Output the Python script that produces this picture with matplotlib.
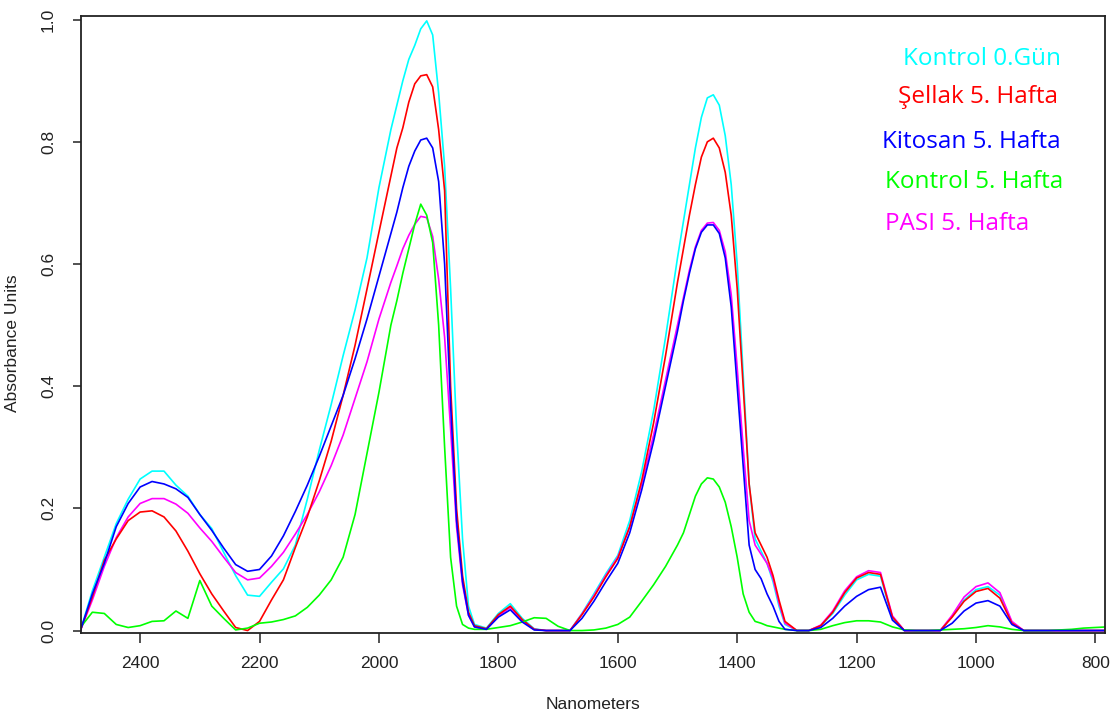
import numpy as np
import matplotlib
matplotlib.use("Agg")
import matplotlib.pyplot as plt

# wavelength grid (nm), denser around the two big water bands
nm = (list(range(2500, 1979, -20)) + list(range(1970, 1839, -10)) +
      list(range(1820, 1499, -20)) + list(range(1490, 1329, -10)) +
      list(range(1320, 779, -20)))

kontrol_0 = [
    0.0, 0.065, 0.12, 0.175, 0.215, 0.248, 0.261, 0.261, 0.238, 0.22,
    0.19, 0.167, 0.128, 0.09, 0.058, 0.056, 0.079, 0.101, 0.14, 0.215,
    0.295, 0.37, 0.45, 0.525, 0.61, 0.725, 0.82,
    0.86, 0.90, 0.935, 0.958, 0.985, 0.998, 0.975, 0.88, 0.76, 0.56, 0.33, 0.15, 0.04, 0.01,
    0.004, 0.028, 0.044, 0.02, 0.003, 0.0, 0.0, 0.0, 0.028, 0.06,
    0.093, 0.123, 0.18, 0.26, 0.36, 0.48, 0.61,
    0.67, 0.73, 0.79, 0.84, 0.872, 0.877, 0.86, 0.81, 0.73, 0.60, 0.42, 0.24, 0.15, 0.13, 0.11, 0.08, 0.04,
    0.01, 0.0, 0.0, 0.008, 0.028, 0.058, 0.083, 0.092, 0.089, 0.02,
    0.0, 0.0, 0.0, 0.0, 0.023, 0.05, 0.067, 0.072, 0.058, 0.013,
    0.0, 0.0, 0.0, 0.0, 0.0, 0.0, 0.0, 0.0,
]

sellak_5 = [
    0.0, 0.055, 0.115, 0.15, 0.18, 0.194, 0.196, 0.186, 0.163, 0.13,
    0.093, 0.06, 0.032, 0.005, 0.0, 0.015, 0.05, 0.083, 0.136, 0.186,
    0.245, 0.31, 0.385, 0.467, 0.559, 0.652, 0.744,
    0.79, 0.823, 0.865, 0.895, 0.908, 0.91, 0.89, 0.82, 0.72, 0.40, 0.20, 0.09, 0.03, 0.008,
    0.003, 0.026, 0.04, 0.018, 0.002, 0.0, 0.0, 0.0, 0.026, 0.055,
    0.088, 0.118, 0.17, 0.245, 0.34, 0.45, 0.57,
    0.625, 0.68, 0.73, 0.775, 0.80, 0.806, 0.79, 0.75, 0.68, 0.56, 0.40, 0.24, 0.16, 0.14, 0.12, 0.09, 0.05,
    0.015, 0.0, 0.0, 0.008, 0.03, 0.062, 0.086, 0.095, 0.092, 0.022,
    0.0, 0.0, 0.0, 0.0, 0.022, 0.048, 0.064, 0.069, 0.053, 0.012,
    0.0, 0.0, 0.0, 0.0, 0.0, 0.0, 0.0, 0.0,
]

kitosan_5 = [
    0.0, 0.06, 0.11, 0.17, 0.208, 0.235, 0.244, 0.24, 0.232, 0.218,
    0.19, 0.164, 0.135, 0.108, 0.097, 0.10, 0.122, 0.155, 0.195, 0.238,
    0.285, 0.335, 0.385, 0.445, 0.51, 0.58, 0.65,
    0.685, 0.725, 0.76, 0.785, 0.803, 0.806, 0.79, 0.735, 0.60, 0.37, 0.18, 0.08, 0.025, 0.006,
    0.002, 0.022, 0.034, 0.014, 0.001, 0.0, 0.0, 0.0, 0.02, 0.048,
    0.08, 0.11, 0.16, 0.23, 0.31, 0.40, 0.49,
    0.54, 0.585, 0.625, 0.652, 0.664, 0.664, 0.65, 0.61, 0.53, 0.40, 0.27, 0.14, 0.10, 0.085, 0.06, 0.04, 0.015,
    0.002, 0.0, 0.0, 0.005, 0.02, 0.04, 0.056, 0.067, 0.071, 0.017,
    0.0, 0.0, 0.0, 0.0, 0.012, 0.032, 0.045, 0.049, 0.04, 0.01,
    0.0, 0.0, 0.0, 0.0, 0.0, 0.0, 0.0, 0.0,
]

kontrol_5 = [
    0.005, 0.03, 0.028, 0.01, 0.005, 0.008, 0.015, 0.016, 0.032, 0.02,
    0.082, 0.04, 0.02, 0.001, 0.004, 0.012, 0.014, 0.018, 0.024, 0.038,
    0.058, 0.083, 0.12, 0.19, 0.29, 0.39, 0.50,
    0.54, 0.585, 0.625, 0.665, 0.698, 0.68, 0.635, 0.50, 0.30, 0.12, 0.04, 0.01, 0.004, 0.002,
    0.002, 0.005, 0.008, 0.014, 0.021, 0.02, 0.007, 0.0, 0.0, 0.001,
    0.004, 0.01, 0.022, 0.048, 0.075, 0.105, 0.14,
    0.16, 0.19, 0.22, 0.24, 0.25, 0.248, 0.235, 0.21, 0.17, 0.12, 0.06, 0.03, 0.015, 0.012, 0.008, 0.006, 0.004,
    0.002, 0.0, 0.0, 0.002, 0.008, 0.013, 0.016, 0.016, 0.014, 0.006,
    0.001, 0.0, 0.0, 0.001, 0.002, 0.003, 0.005, 0.008, 0.006, 0.002,
    0.0, 0.0, 0.0, 0.001, 0.002, 0.004, 0.005, 0.006,
]

pasi_5 = [
    0.0, 0.05, 0.105, 0.152, 0.186, 0.208, 0.216, 0.216, 0.207, 0.192,
    0.168, 0.146, 0.12, 0.095, 0.083, 0.086, 0.105, 0.128, 0.158, 0.19,
    0.227, 0.27, 0.32, 0.38, 0.44, 0.51, 0.57,
    0.597, 0.625, 0.647, 0.665, 0.678, 0.676, 0.645, 0.575, 0.48, 0.33, 0.17, 0.075, 0.025, 0.006,
    0.002, 0.024, 0.038, 0.016, 0.002, 0.0, 0.0, 0.0, 0.027, 0.057,
    0.09, 0.12, 0.17, 0.24, 0.32, 0.41, 0.50,
    0.545, 0.59, 0.628, 0.655, 0.667, 0.668, 0.655, 0.62, 0.55, 0.43, 0.30, 0.18, 0.14, 0.125, 0.11, 0.085, 0.045,
    0.012, 0.0, 0.0, 0.009, 0.032, 0.065, 0.088, 0.098, 0.095, 0.024,
    0.0, 0.0, 0.0, 0.0, 0.025, 0.055, 0.072, 0.078, 0.062, 0.015,
    0.0, 0.0, 0.0, 0.0, 0.0, 0.0, 0.0, 0.0,
]

labels = ["Kontrol 0.Gün", "Şellak 5. Hafta", "Kitosan 5. Hafta",
          "Kontrol 5. Hafta", "PASI 5. Hafta"]
colors = ["#00FFFF", "#FF0000", "#0000FF", "#00FF00", "#FF00FF"]

W, H = 1114, 712
fig = plt.figure(figsize=(W / 100, H / 100), dpi=100)
ax = fig.add_axes([81 / W, 1 - 633 / H, 1024 / W, 617 / H])

# drawing order: blue ends up on top like in the original
ax.plot(nm, kontrol_0, color=colors[0], lw=1.2)
ax.plot(nm, pasi_5, color=colors[4], lw=1.2)
ax.plot(nm, sellak_5, color=colors[1], lw=1.2)
ax.plot(nm, kontrol_5, color=colors[3], lw=1.2)
ax.plot(nm, kitosan_5, color=colors[2], lw=1.2)

ax.set_xlim(2499, 784)
ax.set_ylim(-0.004, 1.006)

ax.set_xticks(range(2400, 799, -200))
ax.set_yticks([0.0, 0.2, 0.4, 0.6, 0.8, 1.0])
ax.set_yticklabels(["0.0", "0.2", "0.4", "0.6", "0.8", "1.0"],
                   rotation=90, va="center")

for s in ax.spines.values():
    s.set_linewidth(1.3)
    s.set_color("#222222")

ax.tick_params(axis="x", length=7.5, width=1.1, pad=9, labelsize=12.5,
               color="#222222", labelcolor="#222222")
ax.tick_params(axis="y", length=6, width=1.1, pad=12, labelsize=12.5,
               color="#222222", labelcolor="#222222")
for t in ax.get_xticklabels() + ax.get_yticklabels():
    t.set_family("Liberation Sans")

ax.set_xlabel("Nanometers", family="Liberation Sans", fontsize=12.5,
              color="#222222")
ax.set_ylabel("Absorbance Units", family="Liberation Sans", fontsize=12.5,
              color="#222222")
ax.xaxis.set_label_coords(0.5, -0.104)
ax.yaxis.set_label_coords(-0.06, 0.47)

# coloured text legend in the upper right corner (pixel positions)
text_pos = [(903, 65), (898, 103), (882, 148), (885, 188), (885, 230)]
for lab, col, (px, py) in zip(labels, colors, text_pos):
    fig.text(px / W, 1 - py / H, lab, color=col, fontsize=17.5,
             family="Open Sans", ha="left", va="baseline")

fig.savefig("out.png", dpi=100)
